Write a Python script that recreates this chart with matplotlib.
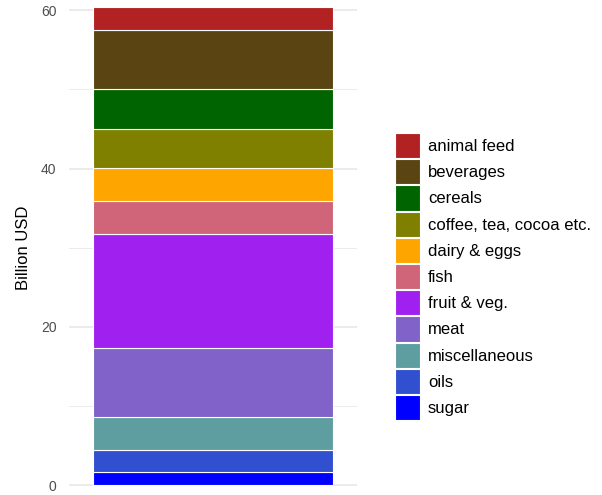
import numpy as np
import matplotlib
matplotlib.use("Agg")
import matplotlib.pyplot as plt
from matplotlib.patches import Patch

plt.rcParams['font.family'] = ['Liberation Sans', 'DejaVu Sans']

# stacking order bottom -> top
categories = ["sugar", "oils", "miscellaneous", "meat", "fruit & veg.", "fish",
              "dairy & eggs", "coffee, tea, cocoa etc.", "cereals", "beverages", "animal feed"]
values = [1.7, 2.7, 4.2, 8.7, 14.4, 4.2, 4.2, 4.9, 5.1, 7.4, 2.9]
colors = ["#0000FF", "#3050D0", "#5F9EA0", "#8062C8", "#A020F0", "#D06478",
          "#FFA500", "#808000", "#006400", "#5A4412", "#B22222"]
yticks = [0, 20, 40, 60]

fig = plt.figure(figsize=(6.02, 4.95), dpi=100)
ax = fig.add_axes([69 / 602, 0, 288 / 602, 1])

bottom = 0
for cat, v, c in zip(categories, values, colors):
    ax.bar(0, v, width=1.0, bottom=bottom, color=c, edgecolor='white', linewidth=0.8, zorder=3)
    bottom += v

ax.set_xlim(-0.6, 0.6)
ax.set_ylim(-1.26, 61.3)
ax.set_yticks(yticks)
ax.set_yticks([10, 30, 50], minor=True)
ax.grid(axis='y', which='major', color='#ebebeb', linewidth=1.4, zorder=0)
ax.grid(axis='y', which='minor', color='#ebebeb', linewidth=0.7, zorder=0)
ax.set_xticks([])
ax.tick_params(axis='y', which='both', length=0, labelsize=10, labelcolor='#4d4d4d', pad=9)
for s in ax.spines.values():
    s.set_visible(False)
ax.set_ylabel("Billion USD", fontsize=12, labelpad=7)

handles = [Patch(facecolor=c, edgecolor='white', linewidth=0.8) for c in colors[::-1]]
fig.legend(handles, categories[::-1], loc='upper left',
           bbox_to_anchor=(395 / 602, 1 - 133 / 495), frameon=False,
           fontsize=12, handlelength=1.5, handleheight=1.95, labelspacing=0.06,
           handletextpad=0.48, borderpad=0, borderaxespad=0)

fig.savefig("out.png", dpi=100)
